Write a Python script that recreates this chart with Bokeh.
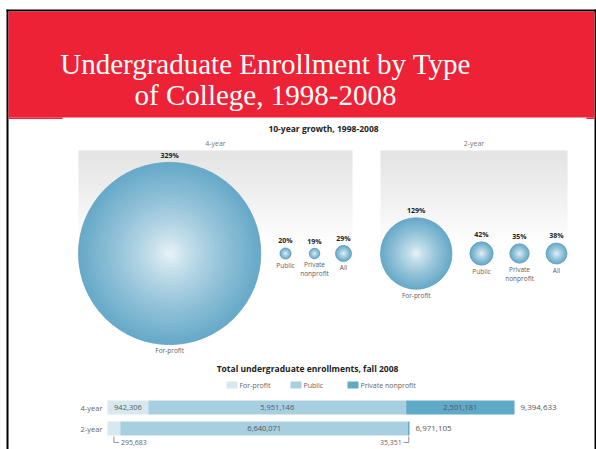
from bokeh.plotting import figure
from bokeh.models import Range1d, ColumnDataSource
from bokeh.embed import file_html
from bokeh.resources import INLINE
from bokeh.core.properties import value

# ---------------- data ----------------
title_lines = ["Undergraduate Enrollment by Type", "of College, 1998-2008"]
growth_title = "10-year growth, 1998-2008"
panel_names = ["4-year", "2-year"]
growth_labels = ["For-profit", "Public", "Private\nnonprofit", "All"]
growth_4yr = [329, 20, 19, 29]
growth_2yr = [129, 42, 35, 38]

bar_title = "Total undergraduate enrollments, fall 2008"
bar_cats = ["4-year", "2-year"]
series_names = ["For-profit", "Public", "Private nonprofit"]
for_profit = [942306, 295683]
public = [5951146, 6640071]
private_np = [2501181, 35351]

# ---------------- style / layout ----------------
W, H = 596, 449
FONT = value("Open Sans")
SERIF = value("Liberation Serif")
RED = "#ee2236"
BAR_COLORS = ["#d7e8ef", "#a7cfdf", "#5fa9c9"]
EDGE = (104, 170, 201)
CENTER = (242, 248, 251)

p = figure(width=W, height=H, x_range=Range1d(0, W), y_range=Range1d(H, 0),
           x_axis_type=None, y_axis_type=None, output_backend="svg",
           toolbar_location=None, min_border=0)
p.grid.visible = False
p.outline_line_color = None
p.background_fill_color = "white"
p.border_fill_color = "white"

# slide frame + red header band
p.quad(left=[6], right=[8], top=[9], bottom=[H], color="black", line_color=None)
p.quad(left=[6], right=[596], top=[9], bottom=[11], color="black", line_color=None)
p.quad(left=[594], right=[596], top=[9], bottom=[H], color="black", line_color=None)
p.quad(left=[8], right=[594], top=[11], bottom=[117], color=RED, line_color=None)
p.quad(left=[8], right=[62], top=[117], bottom=[118.5], color=RED, line_color=None)
p.quad(left=[586], right=[594], top=[117], bottom=[118.5], color=RED, line_color=None)

p.text(x=[265, 265], y=[63, 94], text=title_lines, text_font=SERIF,
       text_font_size="29px", text_color="white", text_align="center",
       text_baseline="alphabetic")

# ---------------- bubble panels ----------------
p.text(x=[323], y=[128], text=[growth_title], text_font=FONT, text_font_size="8.5px",
       text_font_style="bold", text_color="#222", text_align="center", text_baseline="middle")

px_per_pct = 0.277
cy = 253
panels = [
    dict(name=panel_names[0], vals=growth_4yr, left=78, right=352, slots=[None, 285, 314, 343]),
    dict(name=panel_names[1], vals=growth_2yr, left=380, right=567, slots=[None, 481, 519, 556]),
]

def mix(t):
    f = t ** 0.75
    c = tuple(int(round(CENTER[i] + (EDGE[i] - CENTER[i]) * f)) for i in range(3))
    return "#%02x%02x%02x" % c

for pan in panels:
    # gradient grey background
    n = 30
    top, bot = 150, 246
    for k in range(n):
        y0 = top + (bot - top) * k / n
        y1 = top + (bot - top) * (k + 1) / n
        g = int(round(228 + (255 - 228) * (k / (n - 1)) ** 1.1))
        p.quad(left=[pan["left"]], right=[pan["right"]], top=[y0], bottom=[y1 + 0.5],
               color="#%02x%02x%02x" % (g, g, g), line_color=None)
    p.text(x=[(pan["left"] + pan["right"]) / 2], y=[143], text=[pan["name"]], text_font=FONT,
           text_font_size="7px", text_color="#777", text_align="center", text_baseline="middle")

    radii = [v * px_per_pct for v in pan["vals"]]
    xs = []
    for i, r in enumerate(radii):
        xs.append(pan["left"] + r if pan["slots"][i] is None else pan["slots"][i])
    # bubbles with radial shading
    N = 26
    for i, (x, r) in enumerate(zip(xs, radii)):
        for k in range(N):
            t = 1 - k / N
            p.circle(x=[x], y=[cy], radius=r * t, color=mix(t), line_color=None)
        p.circle(x=[x], y=[cy], radius=r, fill_color=None, line_color="#5e9fbf", line_width=0.8)
    # labels
    src = ColumnDataSource(dict(
        x=xs,
        ytop=[cy - r - 2.5 for r in radii],
        ybot=[cy + r + 1.5 for r in radii],
        pct=["%d%%" % v for v in pan["vals"]],
        name=growth_labels,
    ))
    p.text(x="x", y="ytop", text="pct", source=src, text_font=FONT, text_font_size="7px",
           text_font_style="bold", text_color="#222", text_align="center", text_baseline="bottom")
    p.text(x="x", y="ybot", text="name", source=src, text_font=FONT, text_font_size="6.5px",
           text_color="#5a6066", text_align="center", text_baseline="top", text_line_height=1.0)

# ---------------- stacked bars ----------------
p.text(x=[307], y=[368], text=[bar_title], text_font=FONT, text_font_size="8.5px",
       text_font_style="bold", text_color="#222", text_align="center", text_baseline="middle")

# legend
leg_x = [226, 290, 347]
leg_y = 384.5
for lx, name, col in zip(leg_x, series_names, BAR_COLORS):
    p.quad(left=[lx], right=[lx + 11], top=[leg_y - 3.5], bottom=[leg_y + 3.5], color=col, line_color=None)
    p.text(x=[lx + 13], y=[leg_y], text=[name], text_font=FONT, text_font_size="7px",
           text_color="#666", text_align="left", text_baseline="middle")

# value scale for bars: 0 at page x=107, largest total spans 407 px
totals = [a + b + c for a, b, c in zip(for_profit, public, private_np)]
bar_left, bar_span = 107, 407
upp = max(totals) / bar_span
p.extra_x_ranges = {"enr": Range1d(-bar_left * upp, (W - bar_left) * upp)}

row_y = [407, 428]
bh = 14
s1 = for_profit
s2 = [a + b for a, b in zip(for_profit, public)]
s3 = totals
src = ColumnDataSource(dict(y=row_y, l0=[0, 0], r0=s1, r1=s2, r2=s3))
p.hbar(y="y", left="l0", right="r0", height=bh, source=src, color=BAR_COLORS[0],
       line_color=None, x_range_name="enr")
p.hbar(y="y", left="r0", right="r1", height=bh, source=src, color=BAR_COLORS[1],
       line_color=None, x_range_name="enr")
p.hbar(y="y", left="r1", right="r2", height=bh, source=src, color=BAR_COLORS[2],
       line_color=None, x_range_name="enr")

p.text(x=[-5 * upp] * 2, y=row_y, text=bar_cats, x_range_name="enr", text_font=FONT,
       text_font_size="7.5px", text_color="#666", text_align="right", text_baseline="middle")
p.text(x=[t + 6 * upp for t in totals], y=row_y, text=["{:,}".format(t) for t in totals],
       x_range_name="enr", text_font=FONT, text_font_size="8px", text_color="#555",
       text_align="left", text_baseline="middle")

# in-bar value labels (segments too narrow get a bracket annotation)
lab_x, lab_y, lab_t = [], [], []
ann_x, ann_y, ann_t, ann_side = [], [], [], []
for i in range(2):
    segs = [(0, s1[i]), (s1[i], s2[i]), (s2[i], s3[i])]
    vals = [for_profit[i], public[i], private_np[i]]
    for (a, b), v in zip(segs, vals):
        if (b - a) / upp > 30:
            lab_x.append((a + b) / 2)
            lab_y.append(row_y[i])
            lab_t.append("{:,}".format(v))
        else:
            ann_x.append((a + b) / 2)
            ann_y.append(row_y[i])
            ann_t.append("{:,}".format(v))
            ann_side.append(1 if a == 0 else -1)
p.text(x=lab_x, y=lab_y, text=lab_t, x_range_name="enr", text_font=FONT,
       text_font_size="7.5px", text_color="#4b5a63", text_align="center", text_baseline="middle")

for x, y, t, side in zip(ann_x, ann_y, ann_t, ann_side):
    yb = y + bh / 2 + 1
    ye = 442
    p.segment(x0=[x], y0=[yb], x1=[x], y1=[ye], x_range_name="enr", line_color="#777", line_width=0.8)
    p.segment(x0=[x], y0=[ye], x1=[x + side * 5 * upp], y1=[ye], x_range_name="enr",
              line_color="#777", line_width=0.8)
    p.text(x=[x + side * 7 * upp], y=[442], text=[t], x_range_name="enr", text_font=FONT,
           text_font_size="7px", text_color="#666",
           text_align="left" if side > 0 else "right", text_baseline="middle")

open("out.html", "w").write(file_html(p, INLINE))
